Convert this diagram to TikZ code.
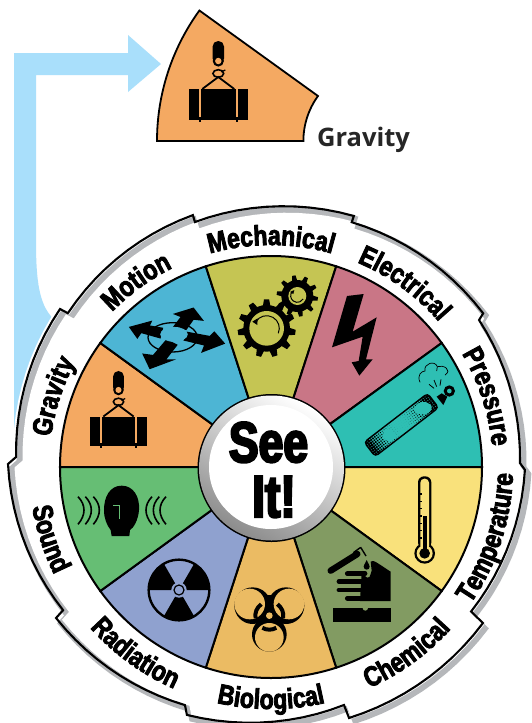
\documentclass[tikz,border=0pt]{standalone}
\usepackage{fontspec}
\usetikzlibrary{decorations.text}
\newfontfamily\ringfont[FakeStretch=0.82,FakeBold=3]{Liberation Sans Bold}
\newfontfamily\hubfont[FakeStretch=0.78,FakeBold=4]{Liberation Sans Bold}
\newfontfamily\labelfont{Open Sans Bold}
\newcommand\rf{\ringfont\fontsize{28}{28}\selectfont}
\definecolor{cGrav}{HTML}{F4A962}
\definecolor{cMot}{HTML}{4DB5D4}
\definecolor{cMech}{HTML}{C5C553}
\definecolor{cElec}{HTML}{C97686}
\definecolor{cPres}{HTML}{2EBFB3}
\definecolor{cTemp}{HTML}{F9E17B}
\definecolor{cChem}{HTML}{829B62}
\definecolor{cBio}{HTML}{EBBB63}
\definecolor{cRad}{HTML}{8FA1CF}
\definecolor{cSnd}{HTML}{66BE74}
\definecolor{cBlue}{HTML}{A9DFFB}
\definecolor{cBand}{HTML}{B5B7BA}
\def\rcx{268}
\def\rcy{464}
\newcommand\sg[5]{-- plot[domain=#1:#2,samples=12,variable=\a]({\rcx+(#3+(#5)+(#4-(#3))*(\a-(#1))/((#2)-(#1)))*cos(\a)},{\rcy-(#3+(#5)+(#4-(#3))*(\a-(#1))/((#2)-(#1)))*sin(\a)}) }
\newcommand\ringp[1]{({\rcx+(252+(#1))*cos(178.4)},{\rcy-(252+(#1))*sin(178.4)}) \sg{178.4}{143.3}{252}{259.4}{#1} \sg{143}{106.8}{250.6}{260}{#1} \sg{106.8}{70.9}{252.8}{262.5}{#1} \sg{70.9}{35}{255.9}{262.7}{#1} \sg{34.3}{0.2}{255.5}{252}{#1} \sg{-1.3}{-36}{257}{251}{#1} \sg{-36.5}{-72.3}{267.4}{266.6}{#1} \sg{-72.5}{-107.9}{252.7}{263.7}{#1} \sg{-109}{-144}{255}{262}{#1} \sg{-144.5}{-180}{251.7}{260}{#1} -- cycle}
\newcommand\wdg[3]{\filldraw[wedgeline,fill=#3] (271,467) -- ++(-#1:211) arc[start angle=-#1,end angle=-#2,radius=211] -- cycle;}
\newcommand\ringtop[2]{\path[decorate,decoration={text along path,text align=center,text={|\rf|#2}}] (#1+24:222) arc[start angle=#1+24,end angle=#1-24,radius=222];}
\newcommand\ringbot[2]{\path[decorate,decoration={text along path,text align=center,text={|\rf|#2}}] (#1-24:242) arc[start angle=#1-24,end angle=#1+24,radius=242];}
\newcommand\craneicon[1]{%
  \fill[rounded corners=5.5] (-5.7,-39) rectangle (5.7,-16);
  \fill (0,-19) circle[radius=5.6];
  \fill[#1] (0,-19) circle[radius=3.2];
  \draw[line width=1.6] (0,-6.5) ellipse[x radius=5.4,y radius=3.8];
  \draw[line width=1.2] (3,-8) -- (7,-10);
  \draw[line width=1.8] (-16,9) -- (0,-3) -- (16,9);
  \fill (-29.5,9) rectangle (30,39.5);
  \fill[#1] (-19.3,9) rectangle (-17.3,39.5);
  \fill[#1] (17.5,9) rectangle (19.5,39.5);
  \fill (-19.2,37) rectangle (-17.4,42);
  \fill (17.6,37) rectangle (19.4,42);
}
\newcommand\gearshape[5]{% cx cy root outer teeth
  \begin{scope}[shift={(#1,#2)}]
  \fill (0,0) circle[radius=#3];
  \foreach \i in {1,...,#5}{\fill[rotate=\i*360/#5+8] (#3-3,-0.16*#3) -- (#4,-0.11*#3) -- (#4,0.11*#3) -- (#3-3,0.16*#3) -- cycle;}
  \end{scope}}
\tikzset{wedgeline/.style={draw=black,line width=2pt},icon/.style={shift={(#1)},scale=1/3}}
\begin{document}
\begin{tikzpicture}[x=1pt,y=1pt,yscale=-1]
\useasboundingbox (0,0) rectangle (531,723);
\fill[white] (0,0) rectangle (531,723);
% arrow
\fill[cBlue] (14,53) -- (128,53) -- (128,35) -- (161,64) -- (128,92) -- (128,75) -- (36,75) -- (36,240)
  .. controls (36,275) and (38,300) .. (50,315) -- (70,340) -- (14,445) -- cycle;
% ring
\draw[white,line width=6pt,fill=white] \ringp{0};
\def\rcx{271.5}
\def\rcy{467.5}
\fill[cBand] \ringp{3};
\fill[white] \ringp{-3};
\def\rcx{268}
\def\rcy{464}
\draw[black,line width=2.1pt,line join=miter] \ringp{0};
% wedges
\wdg{180}{144}{cGrav}
\wdg{144}{108}{cMot}
\wdg{108}{72}{cMech}
\wdg{72}{36}{cElec}
\wdg{36}{0}{cPres}
\wdg{0}{-36}{cTemp}
\wdg{-36}{-72}{cChem}
\wdg{-72}{-108}{cBio}
\wdg{-108}{-144}{cRad}
\wdg{-144}{-180}{cSnd}
% hub
\fill[black] (271.5,468) circle[radius=74];
\shade[shading=axis,top color=white,bottom color=black!45,shading angle=-30] (271.5,468) circle[radius=72.5];
\fill[white] (271,467) circle[radius=62];
\node[font=\hubfont\fontsize{57}{57}\selectfont,anchor=base,inner sep=0pt] (see) at (268.5,462) {See};
\node[font=\hubfont\fontsize{59}{59}\selectfont,anchor=base,inner sep=0pt] (it) at (274,517) {It!};
% ring text
\begin{scope}[yscale=-1,shift={(271,-467)}]
\ringtop{162}{Gravity}
\ringtop{126}{Motion}
\ringtop{90}{Mechanical}
\ringtop{54}{Electrical}
\ringtop{18}{Pressure}
\ringbot{-18}{Temperature}
\ringbot{-54}{Chemical}
\ringbot{-90}{Biological}
\ringbot{-126}{Radiation}
\ringbot{-162}{Sound}
\end{scope}
% gravity icon in wheel
\begin{scope}[shift={(118.5,408)},scale=0.95]\craneicon{cGrav}\end{scope}
% top piece
\filldraw[fill=cGrav,draw=black,line width=1.8pt,line join=miter] (157,141) arc[start angle=180,end angle=216,radius=222] -- (318,96) arc[start angle=216,end angle=180,radius=76.5] -- cycle;
\begin{scope}[shift={(218.3,80)}]\craneicon{cGrav}\end{scope}
\node[font=\labelfont\fontsize{25.5}{25.5}\selectfont,text=black!85,anchor=base west,inner sep=0pt] (gravlabel) at (317,146) {Gravity};
% motion icon
\begin{scope}[icon={125,295}]
\draw[line width=1.3pt] (143,127) ellipse[x radius=74,y radius=44];
\filldraw[line width=1.4pt,line join=miter] (150,57) -- (205,40) -- (232,75) -- (205,72) -- (183,103) -- (147,95) -- (170,65) -- cycle;
\filldraw[line width=1.4pt,line join=miter] (185,112) -- (255,125) -- (268,112) -- (297,145) -- (232,170) -- (240,150) -- (178,135) -- cycle;
\filldraw[line width=1.4pt,line join=miter] (125,135) -- (155,150) -- (120,195) -- (142,195) -- (75,220) -- (55,178) -- (85,182) -- cycle;
\filldraw[line width=1.4pt,line join=miter] (78,80) -- (15,97) -- (37,128) -- (48,112) -- (105,128) -- (112,100) -- (72,93) -- cycle;
\filldraw[fill=cMot,draw=cMot,line width=.8pt] (147,118) ellipse[x radius=40,y radius=21];
\end{scope}
% gears
\begin{scope}[icon={235,270}]
\gearshape{95}{175}{70}{87}{11}
\gearshape{187}{78}{48}{62}{10}
\fill[cMech] (95,175) circle[radius=52];
\fill[cMech] (187,78) circle[radius=27];
\draw[line width=1pt] (62,156) arc[start angle=-150,end angle=23,radius=38];
\fill (52,155) -- (68,145) -- (67,165) -- cycle;
\draw[line width=1pt] (171,65) arc[start angle=217,end angle=30,radius=20];
\fill (165,66) -- (178,60) -- (175,72) -- cycle;
\end{scope}
% bolt
\begin{scope}[icon={261,200}]
\fill (258,288) -- (308,282) -- (275,395) -- (347,352) -- (315,478) -- (335,478) -- (295,527) -- (272,487) -- (293,483) -- (305,410) -- (213,442) -- cycle;
\end{scope}
% cylinder
\begin{scope}[icon={360,355}]
\fill (268,108) circle[radius=17];
\fill[cPres] (268,108) circle[radius=7];
\fill (245,115) -- (262,125) -- (250,150) -- (230,125) -- cycle;
\begin{scope}[shift={(29,283)},rotate=-37.6]
\fill[cPres] (0,-27) rectangle (240,27);
\clip[rounded corners=3.5] (0,-27) rectangle (240,27);
\foreach \t in {0,7,...,238}{
  \pgfmathsetmacro\rr{\t<20?5:(\t<105?3.8*(105-\t)/85:(\t<130?0.01:(\t<215?3.8*(\t-130)/85:5)))}
  \foreach \v in {-27,-20,...,27}{\fill (\t,\v) circle[radius=\rr];}
}
\end{scope}
\draw[line width=1.4pt,rounded corners=3.5,rotate around={-37.6:(29,283)}] (29,256) rectangle (269,310);
\fill[cPres] (70,235) .. controls (80,215) and (95,225) .. (100,232) .. controls (115,240) and (105,255) .. (95,258) .. controls (85,262) and (60,250) .. (70,235);
\fill[cPres] (165,155) .. controls (175,140) and (195,135) .. (210,148) .. controls (225,160) and (205,180) .. (190,178) .. controls (170,180) and (155,165) .. (165,155);
\draw[line width=.7pt] (180,82) .. controls (170,60) and (185,48) .. (195,48) .. controls (190,25) and (225,15) .. (232,35) .. controls (250,28) and (278,45) .. (255,60) (232,35) .. controls (232,40) .. (230,48);
\draw[line width=.8pt] (207,88) -- (222,100) (222,75) -- (230,95) (243,73) -- (240,92);
\end{scope}
% thermometer
\begin{scope}[icon={261,455}]
\fill (491,295) circle[radius=31];
\fill[rounded corners=6] (471,64) rectangle (511,280);
\fill[cTemp] (491,295) circle[radius=24];
\fill[cTemp,rounded corners=4] (478,71) rectangle (504,285);
\fill (491,295) circle[radius=16];
\fill (487,182) rectangle (497,290);
\foreach \yy in {115,137,159,181,203,225,247}{\fill (477,\yy) rectangle (484,\yy+4);}
\end{scope}
% chemical
\begin{scope}[icon={320,540}]
\draw[line width=6.4pt,line cap=round] (32,92) -- (112,42);
\draw[line width=1.4pt] (122,22) -- (138,48) (100,38) -- (122,22);
\fill (140,60) .. controls (145,72) and (150,76) .. (149,80) arc[start angle=0,end angle=180,radius=9] .. controls (130,76) and (135,72) .. (140,60);
\fill (125,95) -- (135,105) arc[start angle=180,end angle=0,radius=8] -- (155,92) -- (152,65) .. controls (160,58) and (170,68) .. (212,95) -- (212,183) -- (120,183) -- cycle;
\draw[line width=4.8pt,line cap=round] (82,101) -- (135,101);
\draw[line width=4.8pt,line cap=round] (57,125) -- (130,125);
\draw[line width=4.8pt,line cap=round] (57,150) -- (130,150);
\draw[line width=4.8pt,line cap=round] (82,175) -- (130,175);
\fill (38,204) rectangle (212,245);
\fill[cChem] (136,204) circle[radius=8];
\end{scope}
% sound
\begin{scope}[icon={0,455}]
\fill (365,92) .. controls (400,92) and (420,125) .. (417,165) .. controls (415,195) and (400,220) .. (390,225) -- (388,243) -- (335,243) -- (332,225) .. controls (320,210) and (312,190) .. (312,165) .. controls (312,125) and (330,92) .. (365,92) -- cycle;
\draw[cSnd,line width=1pt] (340,151) -- (358,151) -- (358,192);
\foreach \xx in {234,256,280}{\draw[line width=1.6pt] (\xx,125) .. controls (\xx+24,150) and (\xx+24,180) .. (\xx,208);}
\foreach \xx in {456,478,498}{\draw[line width=1.6pt] (\xx,125) .. controls (\xx-24,150) and (\xx-24,180) .. (\xx,208);}
\end{scope}
% radiation
\begin{scope}[icon={0,455}]
\draw[line width=2.4pt] (537,405) circle[radius=91];
\foreach \ang in {210,330,90}{\fill[shift={(537,405)}] (0,0) -- (\ang-30:91) arc[start angle=\ang-30,end angle=\ang+30,radius=91] -- cycle;}
\fill[cRad] (537,405) circle[radius=23];
\filldraw[fill=cRad,draw=black,line width=1.2pt] (537,405) circle[radius=15];
\end{scope}
% biohazard
\begin{scope}[icon={225,575}]
\fill[black] (133,178) circle[radius=52];
\fill[black] (83,92) circle[radius=55];
\fill[black] (183,92) circle[radius=55];
\fill[cBio] (133,187) circle[radius=43];
\fill[cBio] (74,87) circle[radius=46];
\fill[cBio] (192,87) circle[radius=46];
\draw[line width=4pt] ([shift={(133,122)}]170:42) arc[start angle=170,end angle=235,radius=42];
\draw[line width=4pt] ([shift={(133,122)}]10:42) arc[start angle=10,end angle=-55,radius=42];
\draw[line width=4pt] ([shift={(133,122)}]120:42) arc[start angle=120,end angle=60,radius=42];
\fill (120,60) -- (146,60) -- (138,118) -- (128,118) -- cycle;
\fill (136,120) -- (176,140) -- (168,150) -- (134,128) -- cycle;
\fill (130,120) -- (90,140) -- (98,150) -- (132,128) -- cycle;
\fill[cBio] (133,122) circle[radius=10];
\end{scope}
\end{tikzpicture}
\end{document}
